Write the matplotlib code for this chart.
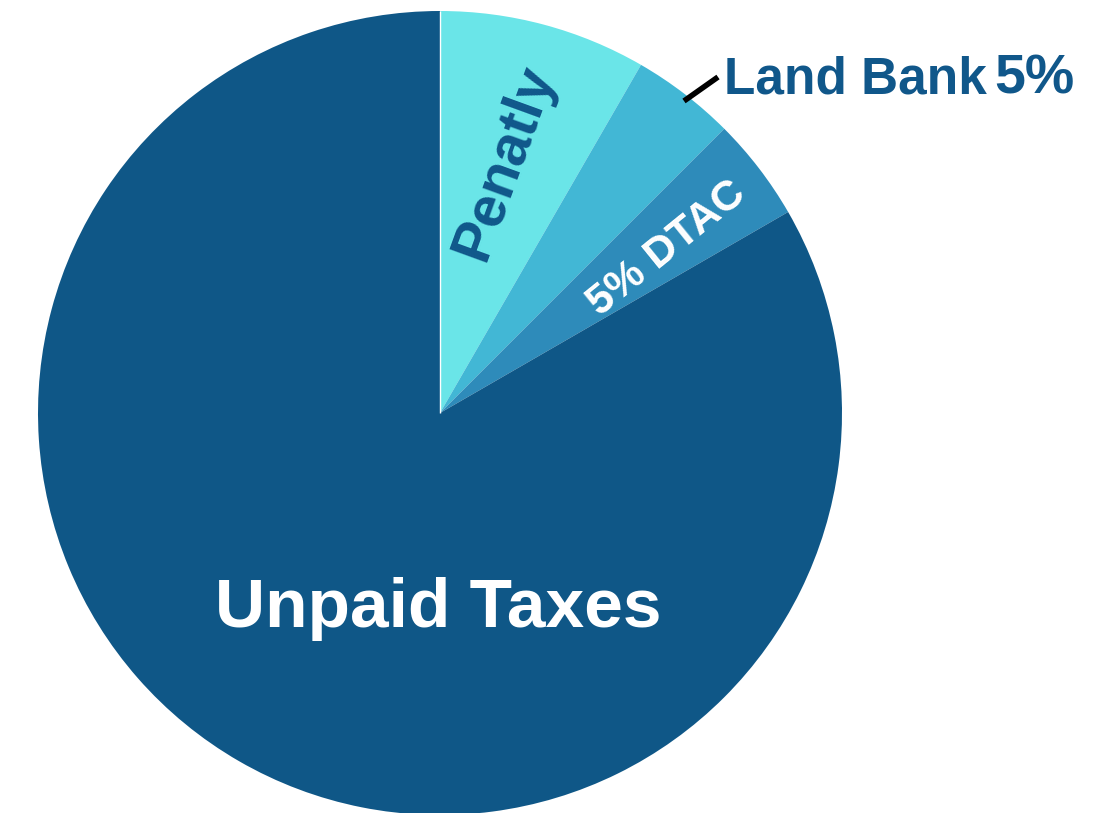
import numpy as np
import matplotlib.pyplot as plt

# slice values (relative amounts, clockwise from 12 o'clock)
categories = ["Penatly", "Land Bank", "DTAC", "Unpaid Taxes"]
values = [10, 5, 5, 100]
colors = ["#6ae5e8", "#42b7d5", "#2e8bba", "#0f5787"]
text_blue = "#10578a"

plt.rcParams['font.family'] = ['Liberation Sans', 'DejaVu Sans']

W, H = 1119, 813
fig = plt.figure(figsize=(W / 100, H / 100), dpi=100)
cx, cy, r = 440, 400, 402  # centre (from bottom) and radius in pixels
ax = fig.add_axes([(cx - r) / W, (cy - r) / H, 2 * r / W, 2 * r / H])

wedges, _ = ax.pie(values, colors=colors, startangle=90, counterclock=False,
                   radius=1, wedgeprops=dict(linewidth=0))
ax.set_xlim(-1, 1)
ax.set_ylim(-1, 1)
ax.set_aspect("equal")
ax.axis("off")

# thin white seam between Unpaid Taxes and Penatly at 12 o'clock
t = np.deg2rad(wedges[0].theta2)
ax.plot([0, np.cos(t)], [0, np.sin(t)], color="white", lw=1, solid_capstyle="butt")

def px(x, y):
    # pixel position (from top-left) -> data coords
    return (x - cx) / r, ((H - y) - cy) / r

ax.text(*px(505, 163), "Penatly", color=text_blue, fontsize=41, fontweight="bold",
        rotation=70, ha="center", va="center", rotation_mode="anchor")
ax.text(*px(667, 249), "5% DTAC", color="white", fontsize=31, fontweight="bold",
        rotation=39, ha="center", va="center", rotation_mode="anchor")
ax.text(*px(438, 609), "Unpaid Taxes", color="white", fontsize=50, fontweight="bold",
        ha="center", va="center")

# Land Bank label outside the pie with a short leader
ax.text(*px(724, 93), "Land Bank", color=text_blue, fontsize=37, fontweight="bold",
        ha="left", va="baseline", clip_on=False)
ax.text(*px(994, 93), "5%", color=text_blue, fontsize=40, fontweight="bold",
        ha="left", va="baseline", clip_on=False)
x0, y0 = px(684, 101)
x1, y1 = px(718, 77)
ax.plot([x0, x1], [y0, y1], color="black", lw=4, solid_capstyle="butt", clip_on=False)

fig.savefig("out.png", dpi=100)
